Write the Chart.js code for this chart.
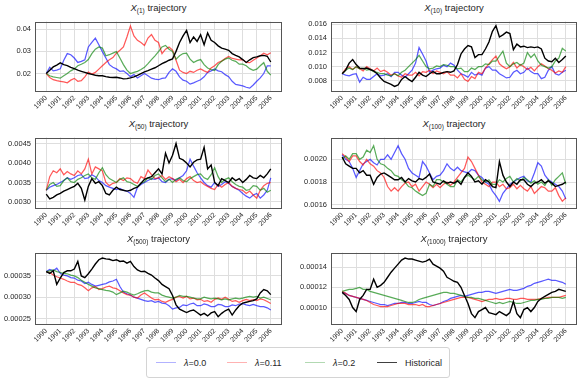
<!DOCTYPE html>
<html><head><meta charset="utf-8">
<script src="https://cdn.jsdelivr.net/npm/chart.js@4.4.0/dist/chart.umd.min.js"></script>
<style>
html,body{margin:0;padding:0;background:#fff;}
#fig{position:relative;width:583px;height:383px;overflow:hidden;font-family:"Liberation Sans",Arial,sans-serif;color:#262626;}
canvas{position:absolute;}
.ttl{position:absolute;font-size:9.5px;white-space:nowrap;transform:translateX(-50%);line-height:11px;}
.ttl sub{font-size:6.5px;vertical-align:-2px;line-height:0;}
#legend{position:absolute;left:146px;top:347px;width:304px;height:31px;border:1px solid #d4d4d4;border-radius:3px;box-sizing:border-box;}
.li{position:absolute;top:0;height:29px;display:flex;align-items:center;font-size:9px;color:#262626;}
.ln{width:20px;height:0;border-top:1.3px solid;margin-right:8px;}
</style></head>
<body><div id="fig">
<div id="legend">
 <div class="li" style="left:9px"><span class="ln" style="border-color:rgba(0,0,255,0.3)"></span><span><i>λ</i>=0.0</span></div>
 <div class="li" style="left:80px"><span class="ln" style="border-color:rgba(255,0,0,0.3)"></span><span><i>λ</i>=0.11</span></div>
 <div class="li" style="left:158px"><span class="ln" style="border-color:rgba(0,128,0,0.3)"></span><span><i>λ</i>=0.2</span></div>
 <div class="li" style="left:230px"><span class="ln" style="border-color:rgba(0,0,0,0.75)"></span><span>Historical</span></div>
</div>
</div>
<script>
// ---- x positions (quarterly dates) ----
const dates = [1990.00,1990.25,1990.50,1990.75,1991.00,1991.25,1991.50,1991.75,1992.00,1992.25,1992.50,1992.75,
1993.00,1993.25,1993.50,1993.75,1994.00,1994.25,1994.50,1994.75,1995.00,1995.25,1995.50,1995.75,
1996.00,1996.25,1996.50,1996.75,1997.00,1997.25,1997.50,1997.75,1998.00,1998.25,1998.50,1998.75,
1999.00,1999.25,1999.50,1999.75,2000.00,2000.25,2000.50,2000.75,2001.00,2001.25,2001.50,2001.75,
2002.00,2002.25,2002.50,2002.75,2003.00,2003.25,2003.50,2003.75,2004.00,2004.25,2004.50,2004.75,
2005.00,2005.25,2005.50,2005.75,2006.00];
const yearTicks = [1990,1991,1992,1993,1994,1995,1996,1997,1998,1999,2000,2001,2002,2003,2004,2005,2006];
const seriesLabels = ['λ=0.0','λ=0.11','λ=0.2','Historical'];

// ---- X(1) ----
const p1Blue = [.0200,.0228,.0212,.0215, .0221,.0260,.0290,.0285, .0270,.0250,.0255,.0262, .0320,.0341,.0360,.0330,
 .0299,.0270,.0240,.0228, .0221,.0210,.0212,.0200, .0186,.0195,.0180,.0190, .0200,.0190,.0179,.0175,
 .0172,.0178,.0180,.0205, .0221,.0210,.0185,.0170, .0165,.0152,.0158,.0165, .0172,.0185,.0205,.0212,
 .0221,.0212,.0208,.0195, .0186,.0165,.0151,.0148, .0144,.0138,.0134,.0148, .0165,.0180,.0200,.0235, .0235];
const p1Red = [.0200,.0182,.0172,.0168, .0165,.0162,.0158,.0170, .0178,.0165,.0168,.0185, .0207,.0198,.0205,.0220,
 .0235,.0250,.0262,.0272, .0292,.0305,.0320,.0365, .0415,.0370,.0350,.0340, .0327,.0360,.0376,.0350,
 .0340,.0290,.0310,.0320, .0306,.0260,.0215,.0205, .0200,.0210,.0205,.0215, .0221,.0212,.0205,.0225,
 .0235,.0250,.0256,.0268, .0277,.0268,.0265,.0262, .0263,.0250,.0249,.0260, .0270,.0280,.0292,.0285, .0294];
const p1Green = [.0200,.0190,.0185,.0182, .0179,.0190,.0200,.0212, .0221,.0235,.0242,.0250, .0263,.0290,.0310,.0320,
 .0315,.0280,.0285,.0292, .0299,.0270,.0240,.0215, .0200,.0205,.0210,.0218, .0228,.0245,.0263,.0280,
 .0299,.0320,.0327,.0310, .0300,.0265,.0280,.0290, .0292,.0265,.0250,.0258, .0263,.0240,.0225,.0218,
 .0214,.0240,.0255,.0265, .0270,.0260,.0255,.0242, .0242,.0235,.0222,.0214, .0220,.0235,.0249,.0210, .0193];
const p1Hist = [.0200,.0215,.0230,.0238, .0248,.0240,.0236,.0228, .0222,.0215,.0210,.0205, .0200,.0196,.0192,.0190,
 .0190,.0186,.0183,.0182, .0183,.0180,.0176,.0177, .0180,.0185,.0192,.0200, .0207,.0213,.0220,.0226,
 .0235,.0245,.0252,.0260, .0266,.0300,.0340,.0370, .0395,.0340,.0365,.0345, .0375,.0330,.0383,.0350,
 .0340,.0325,.0315,.0310, .0305,.0290,.0282,.0275, .0263,.0250,.0262,.0272, .0275,.0280,.0282,.0278, .0252];

// ---- X(10) ----
const p2Blue = [.0090,.0088,.0087,.0089, .0090,.0078,.0085,.0082, .0082,.0086,.0090,.0087, .0088,.0090,.0086,.0092,
 .0092,.0088,.0085,.0090, .0095,.0105,.0127,.0118, .0108,.0092,.0095,.0097, .0098,.0102,.0100,.0105,
 .0102,.0095,.0090,.0088, .0085,.0092,.0088,.0090, .0088,.0098,.0100,.0095, .0095,.0090,.0087,.0084,
 .0085,.0092,.0095,.0090, .0092,.0098,.0093,.0090, .0090,.0083,.0085,.0095, .0100,.0090,.0088,.0092, .0095];
const p2Red = [.0090,.0097,.0100,.0096, .0100,.0097,.0094,.0100, .0097,.0094,.0098,.0093, .0095,.0092,.0088,.0090,
 .0087,.0085,.0090,.0088, .0088,.0092,.0087,.0093, .0092,.0095,.0090,.0094, .0092,.0090,.0093,.0088,
 .0088,.0084,.0090,.0082, .0079,.0086,.0083,.0092, .0090,.0098,.0104,.0110, .0115,.0104,.0100,.0097,
 .0100,.0106,.0098,.0103, .0100,.0096,.0099,.0094, .0100,.0104,.0101,.0097, .0095,.0091,.0094,.0092, .0100];
const p2Green = [.0090,.0095,.0098,.0096, .0100,.0097,.0098,.0095, .0096,.0093,.0092,.0090, .0090,.0088,.0087,.0090,
 .0087,.0092,.0095,.0100, .0105,.0110,.0116,.0108, .0100,.0097,.0098,.0101, .0100,.0103,.0102,.0100,
 .0100,.0097,.0098,.0093, .0093,.0098,.0096,.0100, .0100,.0104,.0103,.0108, .0108,.0115,.0122,.0105,
 .0100,.0104,.0106,.0102, .0105,.0120,.0113,.0118, .0108,.0102,.0100,.0098, .0100,.0108,.0112,.0126, .0122];
const p2Hist = [.0090,.0095,.0105,.0110, .0103,.0098,.0097,.0098, .0096,.0094,.0090,.0084, .0079,.0077,.0075,.0072,
 .0074,.0082,.0086,.0082, .0079,.0085,.0092,.0088, .0086,.0090,.0093,.0090, .0090,.0092,.0093,.0092,
 .0094,.0103,.0118,.0125, .0130,.0128,.0113,.0117, .0117,.0125,.0135,.0150, .0158,.0142,.0145,.0149,
 .0147,.0124,.0132,.0128, .0129,.0127,.0128,.0127, .0128,.0125,.0112,.0108, .0107,.0112,.0106,.0110, .0115];

// ---- X(50) ----
const p3Blue = [.00330,.00338,.00342,.00345, .00350,.00355,.00362,.00358, .00362,.00368,.00370,.00360, .00362,.00370,.00365,.00355,
 .00350,.00342,.00338,.00335, .00332,.00335,.00330,.00328, .00322,.00312,.00338,.00345, .00350,.00355,.00360,.00358,
 .00362,.00352,.00350,.00358, .00360,.00355,.00362,.00368, .00380,.00410,.00392,.00375, .00362,.00350,.00342,.00338,
 .00350,.00340,.00345,.00352, .00348,.00340,.00335,.00330, .00322,.00315,.00310,.00318, .00322,.00310,.00318,.00330, .00362];
const p3Red = [.00330,.00365,.00380,.00375, .00385,.00370,.00378,.00372, .00368,.00380,.00372,.00385, .00410,.00372,.00390,.00385,
 .00380,.00350,.00342,.00348, .00350,.00360,.00355,.00362, .00360,.00352,.00348,.00365, .00360,.00382,.00370,.00360,
 .00362,.00368,.00358,.00365, .00360,.00352,.00358,.00350, .00360,.00365,.00355,.00350, .00352,.00345,.00340,.00335,
 .00332,.00345,.00338,.00345, .00350,.00340,.00335,.00332, .00330,.00322,.00328,.00318, .00310,.00330,.00342,.00348, .00350];
const p3Green = [.00330,.00345,.00350,.00340, .00342,.00355,.00362,.00352, .00350,.00358,.00362,.00368, .00372,.00362,.00358,.00375,
 .00388,.00370,.00360,.00355, .00350,.00358,.00362,.00352, .00350,.00345,.00340,.00348, .00352,.00362,.00358,.00368,
 .00372,.00362,.00352,.00358, .00350,.00358,.00362,.00355, .00352,.00360,.00365,.00370, .00372,.00362,.00358,.00370,
 .00388,.00365,.00350,.00358, .00362,.00352,.00345,.00340, .00338,.00330,.00332,.00342, .00340,.00330,.00335,.00325, .00330];
const p3Hist = [.00320,.00308,.00312,.00318, .00322,.00328,.00332,.00336, .00340,.00348,.00335,.00305, .00340,.00360,.00348,.00352,
 .00342,.00322,.00318,.00330, .00338,.00332,.00330,.00328, .00330,.00335,.00338,.00348, .00358,.00362,.00365,.00375,
 .00385,.00372,.00425,.00400, .00420,.00450,.00412,.00408, .00400,.00390,.00402,.00408, .00410,.00440,.00385,.00395,
 .00350,.00342,.00360,.00355, .00350,.00362,.00355,.00360, .00350,.00358,.00368,.00362, .00360,.00368,.00362,.00372, .00385];

// ---- X(100) ----
const p4Blue = [.00204,.00200,.00198,.00192, .00184,.00190,.00196,.00198, .00200,.00197,.00195,.00200, .00200,.00204,.00200,.00206,
 .00212,.00205,.00200,.00192, .00188,.00186,.00184,.00198, .00194,.00188,.00182,.00185, .00186,.00190,.00196,.00192,
 .00190,.00193,.00190,.00189, .00188,.00191,.00190,.00186, .00184,.00180,.00178,.00172, .00168,.00163,.00170,.00174,
 .00178,.00180,.00182,.00184, .00185,.00181,.00180,.00188, .00197,.00194,.00186,.00182, .00180,.00178,.00176,.00172, .00165];
const p4Red = [.00205,.00202,.00198,.00203, .00203,.00198,.00195,.00200, .00196,.00194,.00190,.00188, .00184,.00176,.00172,.00175,
 .00172,.00176,.00179,.00180, .00176,.00178,.00172,.00176, .00180,.00178,.00175,.00178, .00175,.00178,.00180,.00177,
 .00180,.00184,.00188,.00192, .00202,.00198,.00192,.00186, .00180,.00178,.00176,.00180, .00180,.00176,.00178,.00174,
 .00175,.00178,.00174,.00177, .00174,.00172,.00176,.00170, .00173,.00176,.00175,.00172, .00172,.00175,.00168,.00163, .00166];
const p4Green = [.00200,.00203,.00200,.00205, .00205,.00200,.00202,.00208, .00206,.00212,.00200,.00196, .00195,.00192,.00190,.00186,
 .00185,.00182,.00180,.00176, .00175,.00172,.00170,.00168, .00170,.00178,.00176,.00182, .00182,.00180,.00178,.00176,
 .00176,.00182,.00180,.00184, .00186,.00184,.00182,.00185, .00182,.00180,.00182,.00178, .00178,.00182,.00180,.00183,
 .00185,.00180,.00183,.00181, .00184,.00182,.00179,.00181, .00178,.00180,.00177,.00182, .00177,.00182,.00185,.00188, .00178];
const p4Hist = [.00202,.00196,.00194,.00192, .00192,.00188,.00190,.00186, .00186,.00178,.00184,.00187, .00188,.00186,.00184,.00182,
 .00182,.00184,.00180,.00183, .00181,.00180,.00183,.00182, .00184,.00187,.00180,.00179, .00178,.00181,.00179,.00180,
 .00179,.00181,.00178,.00184, .00188,.00185,.00180,.00181, .00178,.00182,.00180,.00176, .00175,.00198,.00186,.00180,
 .00176,.00180,.00178,.00182, .00182,.00178,.00176,.00179, .00180,.00182,.00179,.00181, .00179,.00176,.00177,.00178, .00180];

// ---- X(500) ----
const p5Blue = [.000360,.000365,.000362,.000368, .000356,.000352,.000350,.000346, .000345,.000340,.000338,.000332, .000335,.000330,.000326,.000328,
 .000330,.000332,.000336,.000338, .000342,.000325,.000312,.000308, .000305,.000300,.000298,.000295, .000292,.000290,.000292,.000288,
 .000290,.000286,.000285,.000280, .000272,.000275,.000276,.000282, .000280,.000284,.000286,.000280, .000280,.000284,.000282,.000278,
 .000278,.000283,.000282,.000278, .000278,.000282,.000280,.000284, .000285,.000282,.000280,.000283, .000280,.000278,.000278,.000275, .000270];
const p5Red = [.000360,.000358,.000352,.000348, .000345,.000342,.000338,.000335, .000335,.000330,.000328,.000322, .000315,.000322,.000325,.000318,
 .000320,.000324,.000326,.000322, .000320,.000315,.000310,.000306, .000305,.000300,.000298,.000305, .000310,.000304,.000298,.000294,
 .000295,.000290,.000288,.000292, .000295,.000300,.000302,.000298, .000302,.000296,.000298,.000294, .000295,.000290,.000292,.000288,
 .000295,.000298,.000295,.000300, .000295,.000290,.000292,.000288, .000292,.000295,.000292,.000294, .000292,.000296,.000294,.000290, .000285];
const p5Green = [.000360,.000362,.000364,.000360, .000358,.000356,.000355,.000352, .000350,.000346,.000340,.000335, .000330,.000326,.000322,.000320,
 .000318,.000316,.000315,.000312, .000306,.000310,.000314,.000312, .000308,.000305,.000308,.000312, .000315,.000316,.000312,.000310,
 .000310,.000305,.000302,.000300, .000298,.000300,.000304,.000302, .000302,.000300,.000298,.000296, .000296,.000300,.000298,.000296,
 .000298,.000296,.000294,.000296, .000294,.000296,.000298,.000296, .000298,.000300,.000302,.000300, .000302,.000298,.000300,.000297, .000294];
const p5Hist = [.000360,.000356,.000362,.000330, .000345,.000358,.000362,.000362, .000366,.000384,.000350,.000346, .000355,.000366,.000378,.000388,
 .000392,.000390,.000389,.000386, .000388,.000384,.000385,.000380, .000384,.000372,.000364,.000360, .000361,.000356,.000352,.000345,
 .000339,.000330,.000325,.000320, .000304,.000282,.000272,.000268, .000264,.000268,.000270,.000264, .000258,.000262,.000256,.000263,
 .000266,.000254,.000262,.000268, .000272,.000258,.000270,.000280, .000286,.000288,.000290,.000292, .000296,.000310,.000318,.000315, .000306];

// ---- X(1000) ----
const p6Blue = [.000115,.000114,.000112,.000111, .000110,.000109,.000108,.000107, .000106,.000105,.000104,.000103, .000103,.000102,.000103,.000104,
 .000104,.000105,.000105,.000104, .000104,.000105,.000106,.000105, .000105,.000103,.000102,.000103, .000104,.000106,.000107,.000109,
 .000110,.000111,.000112,.000111, .000112,.000113,.000114,.000115, .000115,.000116,.000116,.000115, .000114,.000115,.000116,.000117,
 .000118,.000117,.000117,.000118, .000119,.000121,.000122,.000124, .000125,.000126,.000127,.000128, .000127,.000127,.000126,.000125, .000123];
const p6Red = [.000116,.000114,.000112,.000111, .000110,.000109,.000108,.000107, .000105,.000103,.000102,.000101, .000101,.000101,.000102,.000103,
 .000104,.000104,.000104,.000103, .000103,.000103,.000102,.000103, .000101,.000101,.000102,.000103, .000104,.000105,.000106,.000107,
 .000108,.000109,.000110,.000110, .000110,.000109,.000108,.000107, .000106,.000107,.000108,.000108, .000109,.000108,.000108,.000109,
 .000109,.000108,.000108,.000109, .000109,.000108,.000108,.000108, .000108,.000109,.000109,.000110, .000110,.000110,.000110,.000111, .000112];
const p6Green = [.000116,.000117,.000118,.000118, .000119,.000120,.000118,.000118, .000116,.000115,.000114,.000113, .000112,.000111,.000110,.000109,
 .000108,.000107,.000106,.000105, .000105,.000106,.000108,.000109, .000110,.000111,.000112,.000113, .000114,.000115,.000115,.000114,
 .000114,.000113,.000112,.000111, .000110,.000110,.000109,.000109, .000108,.000107,.000106,.000105, .000104,.000105,.000104,.000105,
 .000106,.000105,.000104,.000104, .000105,.000106,.000107,.000107, .000108,.000108,.000109,.000109, .000110,.000110,.000110,.000109, .000110];
const p6Hist = [.000115,.000112,.000108,.000100, .000096,.000108,.000112,.000118, .000118,.000128,.000120,.000122, .000125,.000130,.000135,.000139,
 .000143,.000147,.000149,.000148, .000148,.000147,.000146,.000145, .000146,.000148,.000143,.000141, .000139,.000136,.000130,.000128,
 .000126,.000125,.000120,.000112, .000104,.000094,.000090,.000096, .000098,.000100,.000095,.000094, .000093,.000096,.000094,.000092,
 .000095,.000106,.000094,.000090, .000098,.000100,.000096,.000100, .000106,.000109,.000111,.000113, .000115,.000116,.000118,.000117, .000116];

// ---- y tick labels ----
const p1Ticks = [0.02,0.03,0.04];
const p2Ticks = [0.008,0.010,0.012,0.014,0.016];
const p3Ticks = [0.0030,0.0035,0.0040,0.0045];
const p4Ticks = [0.0016,0.0018,0.0020];
const p5Ticks = [0.00025,0.00030,0.00035];
const p6Ticks = [0.00010,0.00012,0.00014];

const panels = [
 {sub:'(1)',    L:35, T:15,  R:282, B:91,  yMin:0.0121,   yMax:0.0435,   ticks:p1Ticks, dec:2, s:[p1Blue,p1Red,p1Green,p1Hist]},
 {sub:'(10)',   L:331,T:15,  R:577, B:91,  yMin:0.00655,  yMax:0.0164,   ticks:p2Ticks, dec:3, s:[p2Blue,p2Red,p2Green,p2Hist]},
 {sub:'(50)',   L:35, T:131, R:282, B:208, yMin:0.002846, yMax:0.004654, ticks:p3Ticks, dec:4, s:[p3Blue,p3Red,p3Green,p3Hist]},
 {sub:'(100)',  L:331,T:131, R:577, B:208, yMin:0.001571, yMax:0.002192, ticks:p4Ticks, dec:4, s:[p4Blue,p4Red,p4Green,p4Hist]},
 {sub:'(500)',  L:35, T:246, R:282, B:324, yMin:0.000237, yMax:0.000405, ticks:p5Ticks, dec:5, s:[p5Blue,p5Red,p5Green,p5Hist]},
 {sub:'(1000)', L:331,T:246, R:577, B:324, yMin:0.0000837,yMax:0.0001545,ticks:p6Ticks, dec:5, s:[p6Blue,p6Red,p6Green,p6Hist]}
];

const colors = ['rgba(0,0,255,0.65)','rgba(255,0,0,0.65)','rgba(0,128,0,0.65)','#000000'];
const widths = [1.25,1.25,1.25,1.4];
const orders = [3,2,1,0];
const FONT = '"Liberation Sans", Arial, sans-serif';
const YW = 34, XH = 26, PT = 2, PR = 3;

const framePlugin = {
  id:'frame',
  afterDraw(chart){
    const a = chart.chartArea, c = chart.ctx;
    c.save();
    c.strokeStyle = '#555';
    c.lineWidth = 1;
    c.strokeRect(Math.round(a.left)+0.5, Math.round(a.top)+0.5, Math.round(a.right-a.left)-1, Math.round(a.bottom-a.top)-1);
    c.restore();
  }
};

const fig = document.getElementById('fig');
panels.forEach(p => {
  const t = document.createElement('div');
  t.className = 'ttl';
  t.style.left = ((p.L + p.R)/2) + 'px';
  t.style.top = (p.T - 13) + 'px';
  t.innerHTML = '<i>X</i><sub>' + p.sub + '</sub> trajectory';
  fig.appendChild(t);

  const cv = document.createElement('canvas');
  const w = p.R - p.L + YW + PR, h = p.B - p.T + PT + XH;
  cv.width = w; cv.height = h;
  cv.style.width = w + 'px'; cv.style.height = h + 'px';
  cv.style.left = (p.L - YW) + 'px';
  cv.style.top = (p.T - PT) + 'px';
  fig.appendChild(cv);

  const datasets = p.s.map((arr, k) => ({
    label: seriesLabels[k],
    data: arr.map((v, i) => ({x: dates[i], y: v})),
    borderColor: colors[k],
    borderWidth: widths[k],
    order: orders[k],
    pointRadius: 0,
    tension: 0,
    fill: false
  }));

  new Chart(cv, {
    type: 'line',
    data: {datasets},
    options: {
      responsive: false, animation: false, devicePixelRatio: 1,
      layout: {padding: {left: 0, top: PT, right: PR, bottom: 0}},
      plugins: {legend: {display: false}, tooltip: {enabled: false}, title: {display: false}},
      scales: {
        x: {
          type: 'linear', min: 1989.2, max: 2006.8,
          afterBuildTicks: sc => { sc.ticks = yearTicks.map(v => ({value: v})); },
          afterFit: sc => { sc.height = XH; },
          grid: {color: '#dedede', lineWidth: 1, drawTicks: false},
          border: {display: false},
          ticks: {autoSkip: false, minRotation: 45, maxRotation: 45, padding: 3,
                  font: {family: FONT, size: 7}, color: '#262626',
                  callback: v => String(v)}
        },
        y: {
          type: 'linear', min: p.yMin, max: p.yMax,
          afterBuildTicks: sc => { sc.ticks = p.ticks.map(v => ({value: v})); },
          afterFit: sc => { sc.width = YW; },
          grid: {color: '#dedede', lineWidth: 1, drawTicks: false},
          border: {display: false},
          ticks: {padding: 4, font: {family: FONT, size: 7.5}, color: '#262626',
                  callback: v => Number(v).toFixed(p.dec)}
        }
      }
    },
    plugins: [framePlugin]
  });
});
</script>
</body></html>
